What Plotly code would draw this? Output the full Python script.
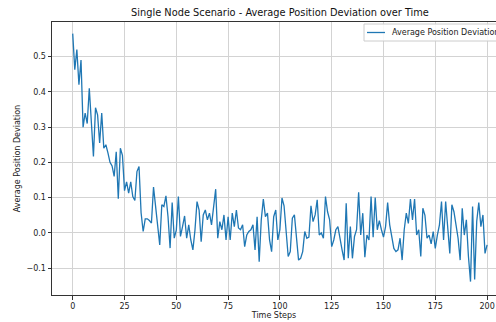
import plotly.graph_objects as go

time_steps = list(range(201))
avg_deviation = [
    0.565, 0.463, 0.52, 0.42, 0.49, 0.30, 0.34, 0.31, 0.41, 0.31,
    0.217, 0.355, 0.335, 0.255, 0.34, 0.24, 0.25, 0.227, 0.20, 0.19,
    0.16, 0.23, 0.097, 0.24, 0.22, 0.12, 0.145, 0.113, 0.145, 0.103,
    0.092, 0.174, 0.188, 0.057, 0.004, 0.04, 0.04, 0.035, 0.028, 0.13,
    0.075, 0.02, -0.034, 0.08, 0.075, 0.105, 0.046, -0.043, 0.086, -0.015,
    0.008, 0.103, -0.01, 0.018, 0.048, -0.015, 0.023, -0.02, -0.048, 0.008,
    0.089, 0.065, -0.025, 0.051, 0.065, 0.037, 0.056, 0.023, 0.075, 0.124,
    -0.015, 0.032, 0.009, 0.051, -0.02, 0.046, -0.02, 0.056, 0.018, 0.065,
    0.014, 0.009, 0.023, -0.039, -0.006, 0.004, 0.009, 0.023, -0.048, 0.046,
    -0.082, 0.037, 0.096, 0.046, 0.056, -0.02, -0.053, 0.046, 0.065, -0.02,
    0.009, 0.099, 0.077, 0.009, -0.067, -0.053, 0.042, 0.051, -0.02, -0.077,
    -0.072, -0.053, 0.004, -0.015, -0.012, 0.077, 0.032, 0.051, 0.094, -0.006,
    0.0, -0.015, 0.103, 0.06, 0.037, -0.039, -0.02, 0.009, 0.018, -0.02,
    -0.048, -0.077, 0.084, -0.072, 0.018, -0.072, -0.01, 0.009, 0.115, -0.006,
    0.056, -0.069, -0.006, -0.02, 0.103, -0.012, 0.1, 0.009, 0.035, 0.009,
    -0.012, 0.018, 0.086, 0.023, -0.015, -0.044, -0.053, -0.048, -0.015, -0.077,
    0.009, 0.056, 0.027, 0.096, 0.037, 0.096, -0.006, 0.009, -0.067, 0.07,
    0.05, -0.015, -0.006, -0.031, 0.004, -0.044, -0.006, 0.023, 0.089, -0.02,
    0.089, 0.009, -0.058, 0.08, 0.06, 0.023, -0.015, -0.077, 0.07, -0.006,
    0.037, -0.067, -0.138, 0.075, -0.132, 0.033, 0.086, 0.018, 0.051, -0.058,
    -0.034,
]
x_ticks = [0, 25, 50, 75, 100, 125, 150, 175, 200]
y_ticks = [-0.1, 0.0, 0.1, 0.2, 0.3, 0.4, 0.5]
y_tick_text = ["−0.1", "0.0", "0.1", "0.2", "0.3", "0.4", "0.5"]
series_name = "Average Position Deviation"

FONT = "DejaVu Sans"
W, H = 496, 322
ML, MR, MT, MB = 52, 0, 22, 27
PW, PH = W - ML - MR, H - MT - MB
LINE_COLOR = "#1f77b4"
TXT = 8

def px_x(p):
    return (p - ML) / PW

def px_y(p):
    return 1 - (p - MT) / PH

fig = go.Figure()
fig.add_trace(go.Scatter(
    x=time_steps, y=avg_deviation, mode="lines",
    name=series_name, showlegend=False,
    line=dict(color=LINE_COLOR, width=1.3),
))

# legend drawn manually (it is cut off by the right edge in the reference)
fig.add_shape(type="rect", xref="paper", yref="paper",
              x0=px_x(364), x1=px_x(520), y0=px_y(41), y1=px_y(24),
              line=dict(color="#cccccc", width=1), fillcolor="rgba(255,255,255,0.85)",
              layer="above")
fig.add_shape(type="line", xref="paper", yref="paper",
              x0=px_x(367), x1=px_x(385), y0=px_y(32.5), y1=px_y(32.5),
              line=dict(color=LINE_COLOR, width=1.3), layer="above")
fig.add_annotation(text=series_name, xref="paper", yref="paper",
                   x=px_x(390), y=px_y(32.5), xanchor="left", yanchor="middle",
                   showarrow=False, font=dict(family=FONT, size=TXT, color="#222"))

fig.update_layout(
    width=W, height=H,
    margin=dict(l=ML, r=MR, t=MT, b=MB),
    paper_bgcolor="white", plot_bgcolor="white",
    font=dict(family=FONT, size=TXT, color="#222"),
    title=dict(text="Single Node Scenario - Average Position Deviation over Time",
               x=280/W, xanchor="center", y=1 - 13/H, yanchor="middle",
               font=dict(family=FONT, size=9.8, color="#111")),
    showlegend=False,
)
fig.update_xaxes(
    range=[-10, 204.3], tickvals=x_ticks, ticktext=[str(v) for v in x_ticks],
    showgrid=True, gridcolor="#d3d3d3", gridwidth=1, zeroline=False,
    showline=True, linecolor="#333", linewidth=1, mirror=True,
    ticks="outside", ticklen=3.5, tickcolor="#333",
    title=dict(text="Time Steps", font=dict(family=FONT, size=TXT, color="#222"), standoff=2),
)
fig.update_yaxes(
    range=[-0.176, 0.598], tickvals=y_ticks, ticktext=y_tick_text,
    showgrid=True, gridcolor="#d3d3d3", gridwidth=1, zeroline=False,
    showline=True, linecolor="#333", linewidth=1, mirror=False,
    ticks="outside", ticklen=3.5, tickcolor="#333",
    title=dict(text="Average Position Deviation", font=dict(family=FONT, size=TXT, color="#222"), standoff=4),
)

fig.write_html("out.html")
